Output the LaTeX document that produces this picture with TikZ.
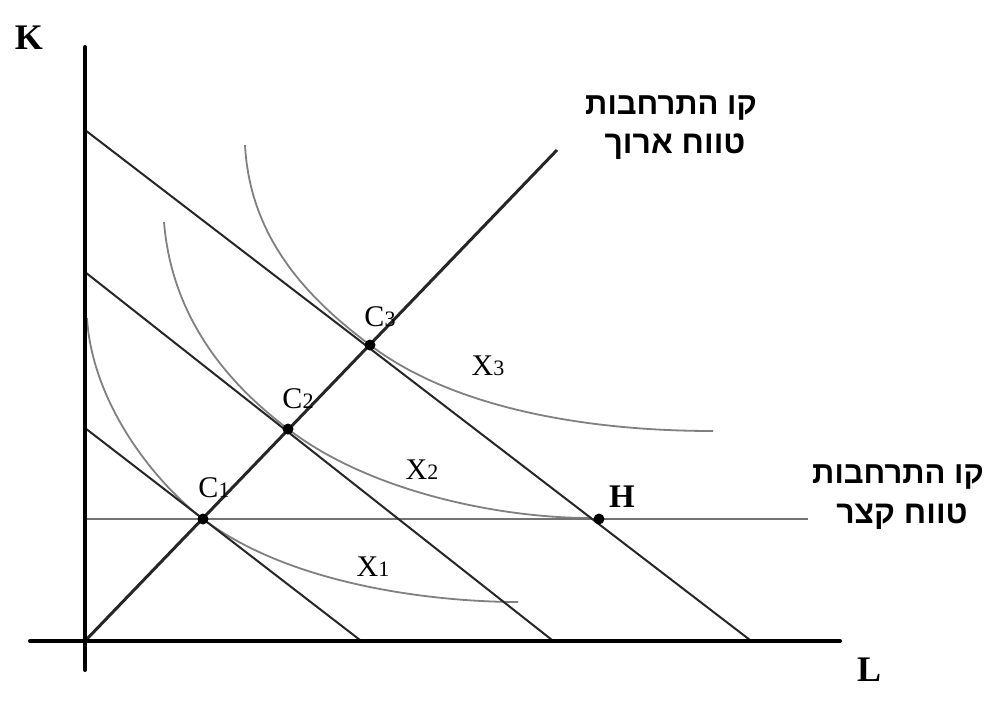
\documentclass[tikz,border=0pt]{standalone}
\usepackage{fontspec}
\setmainfont{Liberation Serif}
\newfontfamily\hebfont[Script=Hebrew]{Liberation Sans}
\TeXXeTstate=1
\newcommand{\sml}[1]{{\fontsize{22}{22}\selectfont #1}}
\begin{document}
\begin{tikzpicture}[x=1pt,y=-1pt,
  axis/.style={line width=4pt, black, line cap=round},
  budget/.style={line width=2pt, black!85},
  expan/.style={line width=3pt, black!85},
  srline/.style={line width=2.5pt, black!55},
  iso/.style={line width=1.8pt, black!50},
  dot/.style={circle, fill=black, inner sep=0pt, minimum size=11pt},
  lbl/.style={font=\fontsize{30}{32}\selectfont, inner sep=0pt},
  axlbl/.style={font=\bfseries\fontsize{36}{40}\selectfont, inner sep=0pt},
  hebb/.style={font=\hebfont\bfseries\fontsize{31}{34}\selectfont, inner sep=0pt},
  hebr/.style={font=\hebfont\bfseries\fontsize{32}{34}\selectfont, inner sep=0pt}
]
\useasboundingbox (0,0) rectangle (993,724);
% axes
\coordinate (O) at (85,641);
\coordinate (Ytop) at (85,47);
\coordinate (Ybot) at (85,670);
\coordinate (Xl) at (30,641);
\coordinate (Xr) at (840,641);
% key points
\coordinate (C1) at (203,519);
\coordinate (C2) at (288,429);
\coordinate (C3) at (370,345);
\coordinate (Hp) at (599,519);
\coordinate (Eend) at (557,150);
\coordinate (Sl) at (85,519);
\coordinate (Sr) at (808,519);
% budget lines
\coordinate (B1a) at (85,428);  \coordinate (B1b) at (360,640);
\coordinate (B2a) at (85,272);  \coordinate (B2b) at (552,640);
\coordinate (B3a) at (85,130);  \coordinate (B3b) at (750,640);

% isoquants
\draw[iso] (87,318) .. controls (92,400) and (150,478) .. (C1)
  .. controls (293,587) and (440,602) .. (518,602);
\draw[iso] (164,222) .. controls (172,320) and (230,385) .. (C2)
  .. controls (370,492) and (500,518) .. (590,518);
\draw[iso] (245,145) .. controls (250,240) and (310,300) .. (C3)
  .. controls (450,406) and (580,431) .. (713,431);

% short-run expansion line
\draw[srline] (Sl) -- (Sr);
% budget lines
\draw[budget] (B1a) -- (B1b);
\draw[budget] (B2a) -- (B2b);
\draw[budget] (B3a) -- (B3b);
% long-run expansion line
\draw[expan] (O) -- (Eend);
% axes
\draw[axis] (Ytop) -- (Ybot);
\draw[axis] (Xl) -- (Xr);

% dots
\node[dot] (d1) at (C1) {};
\node[dot] (d2) at (C2) {};
\node[dot] (d3) at (C3) {};
\node[dot] (dH) at (Hp) {};

% labels
\node[axlbl] (K) at (29,38) {K};
\node[axlbl] (L) at (869,670) {L};
\node[axlbl, font=\bfseries\fontsize{33}{36}\selectfont] (H) at (622,497) {H};
\node[lbl] (c1) at (214,488) {C\sml{1}};
\node[lbl] (c2) at (298,399) {C\sml{2}};
\node[lbl] (c3) at (380,317) {C\sml{3}};
\node[lbl] (x1) at (373,567) {X\sml{1}};
\node[lbl] (x2) at (422,470) {X\sml{2}};
\node[lbl] (x3) at (488,366) {X\sml{3}};

% Hebrew labels
\node[hebb] (h1a) at (671,108) {\beginR קו התרחבות\endR};
\node[hebr] (h1b) at (675,147) {\beginR טווח ארוך\endR};
\node[hebb] (h2a) at (898,477) {\beginR קו התרחבות\endR};
\node[hebr] (h2b) at (902,517) {\beginR טווח קצר\endR};
\end{tikzpicture}
\end{document}
